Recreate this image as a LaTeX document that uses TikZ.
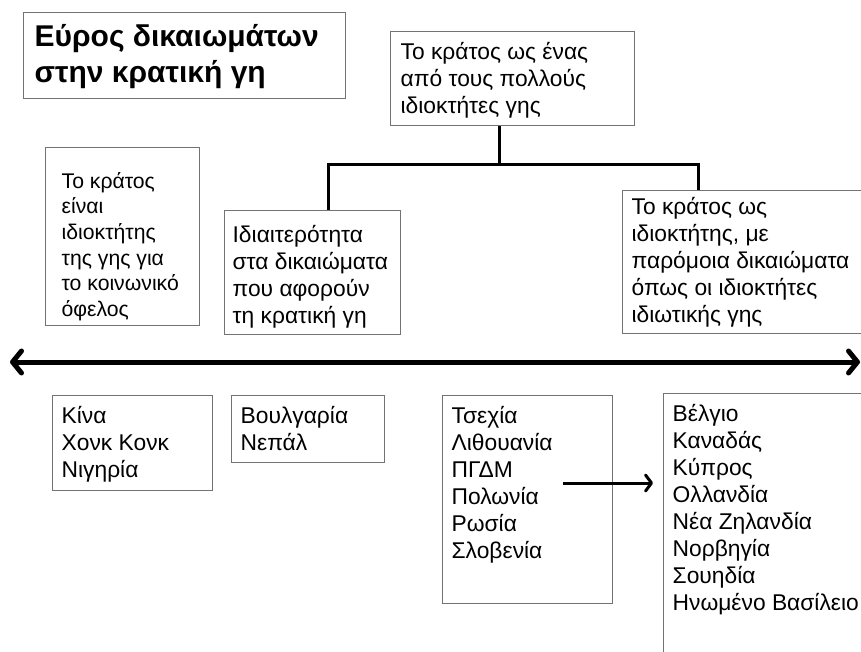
\documentclass[tikz,border=0pt]{standalone}
\usepackage{fontspec}
\setmainfont{Liberation Sans}
\usetikzlibrary{arrows.meta}
\usetikzlibrary{positioning}

\definecolor{boxGray}{gray}{0.45}
\newcommand{\edgeColor}{boxGray}
\newcommand{\lineColor}{black}
\newcommand{\bodySize}{\fontsize{22.8}{27}\selectfont}
\newcommand{\titleSize}{\fontsize{30}{36.5}\selectfont\bfseries}
% fixed-size text block, text set from the top left
\newcommand{\boxText}[3]{\parbox[t][#2][t]{#1}{\strut#3}}
\tikzset{textbox/.style = {draw=\edgeColor, line width=1.3pt, anchor=north west,
        inner xsep=9pt, inner ysep=9pt, font=\bodySize}}
\tikzset{link/.style = {\lineColor, line width=3pt}}
\tikzset{axis/.style = {\lineColor, line width=5pt,
        arrows={Straight Barb[length=9pt,width=22pt,round]-Straight Barb[length=9pt,width=22pt,round]}}}
\tikzset{moveArrow/.style = {\lineColor, line width=3pt,
        -{Straight Barb[length=6pt,width=16pt,round]}, shorten >=10pt}}

\begin{document}
\begin{tikzpicture}[x=1pt, y=-1pt]
    \path[use as bounding box, clip] (0,0) rectangle (861,652);

    % boxes above the axis
    \node[textbox, font=\titleSize, inner xsep=11pt, inner ysep=8pt] (title) at (23,12)
        {\boxText{300pt}{69.7pt}{Εύρος δικαιωμάτων\\στην κρατική γη}};
    \node[textbox, inner xsep=10pt] (owner) at (390,31)
        {\boxText{224pt}{76pt}{Το κράτος ως ένας\\από τους πολλούς\\ιδιοκτήτες γης}};
    \node[textbox, inner xsep=16pt, font=\fontsize{21.2}{25.7}\selectfont] (social) at (45,147)
        {\boxText{122pt}{160pt}{\rule{0pt}{31.5pt}Το κράτος\\είναι\\ιδιοκτήτης\\της γης για\\το κοινωνικό\\όφελος}};
    \node[textbox, inner xsep=8pt, inner ysep=13pt] (special) at (224,210)
        {\boxText{160pt}{98pt}{Ιδιαιτερότητα\\στα δικαιώματα\\που αφορούν\\τη κρατική γη}};
    \node[textbox, inner ysep=4.6pt] (private) at (622,190)
        {\boxText{240pt}{133.8pt}{Το κράτος ως\\ιδιοκτήτης, με\\παρόμοια δικαιώματα\\όπως οι ιδιοκτήτες\\ιδιωτικής γης}};

    % connector from the shared box
    \coordinate (hub) at (499,165);
    \draw[link] (owner.south -| hub) -- (hub);
    \draw[link] ([xshift=104pt]special.north west) |- (hub) -| ([xshift=76pt]private.north west);

    % the axis
    \coordinate (west) at (10,362);
    \coordinate (east) at (860,362);
    \draw[axis] (west) -- (east);

    % countries below the axis
    \node[textbox] (china) at (52,395)
        {\boxText{142pt}{77pt}{Κίνα\\Χονκ Κονκ\\Νιγηρία}};
    \node[textbox] (bulgaria) at (231,395)
        {\boxText{135pt}{49pt}{Βουλγαρία\\Νεπάλ}};
    \node[textbox] (czech) at (442,395)
        {\boxText{152pt}{190pt}{Τσεχία\\Λιθουανία\\ΠΓΔΜ\\Πολωνία\\Ρωσία\\Σλοβενία}};
    \node[textbox] (belgium) at (663,393)
        {\boxText{212pt}{262pt}{Βέλγιο\\Καναδάς\\Κύπρος\\Ολλανδία\\Νέα Ζηλανδία\\Νορβηγία\\Σουηδία\\Ηνωμένο Βασίλειο}};

    \coordinate (czechOut) at (563,483);
    \draw[moveArrow] (czechOut) -- (czechOut -| belgium.west);
\end{tikzpicture}
\end{document}
